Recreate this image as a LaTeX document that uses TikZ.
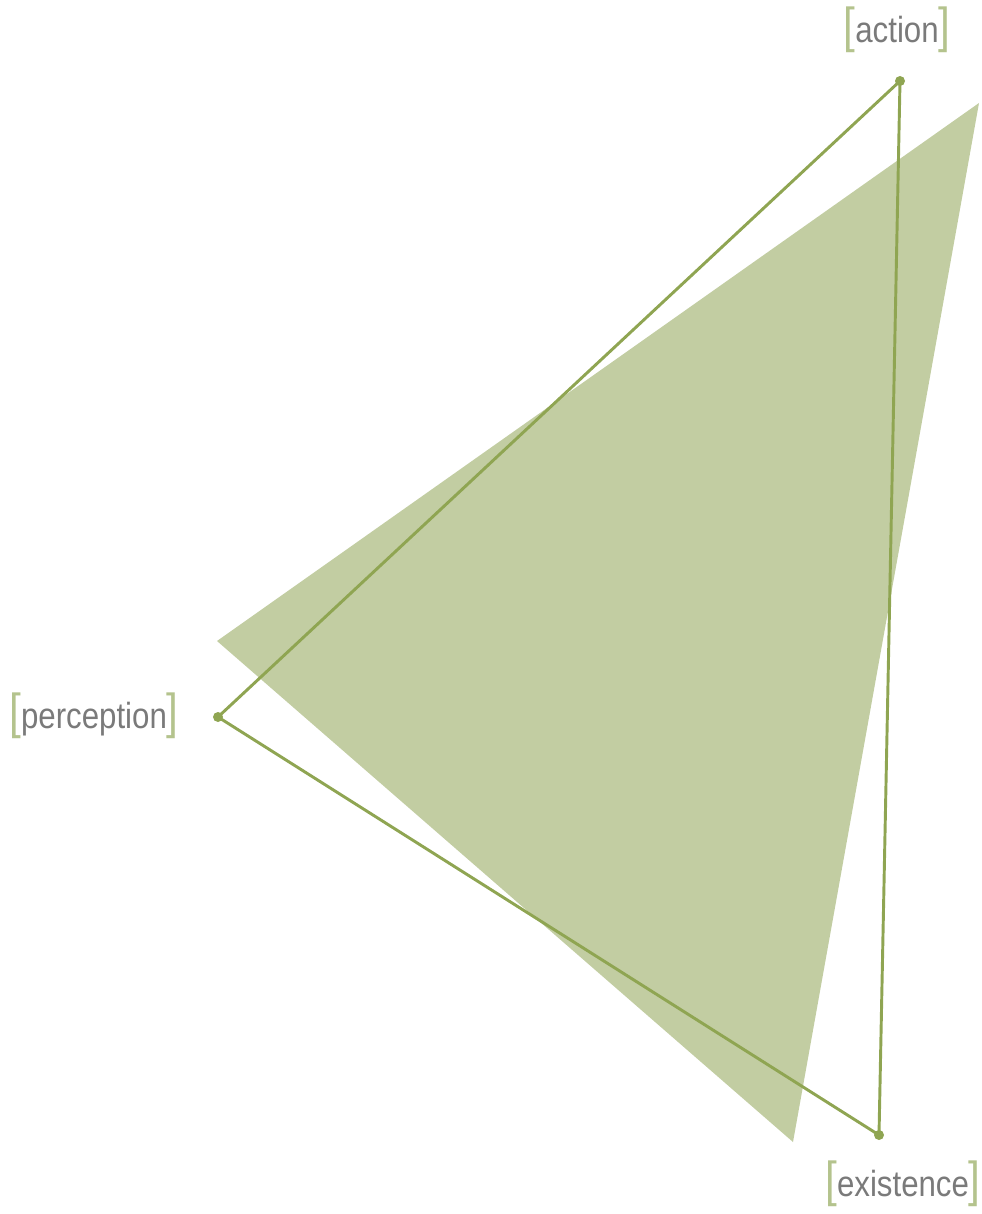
\documentclass[tikz,border=0pt]{standalone}
\usepackage{fontspec}
\setmainfont[FakeStretch=0.86]{Liberation Sans}
\usepackage{tikz}
\usetikzlibrary{positioning}
\definecolor{leaf}{HTML}{8FA552}
\definecolor{leafpale}{HTML}{C2CDA2}
\definecolor{brkgreen}{HTML}{B4C38D}
\definecolor{labgray}{HTML}{7A7A7A}

\newcommand{\brlabel}[1]{{\fontsize{42}{42}\selectfont\color{brkgreen}[}{\color{labgray}#1}{\fontsize{42}{42}\selectfont\color{brkgreen}]}}

\begin{document}
\begin{tikzpicture}[x=0.03cm, y=-0.03cm,
    corner/.style={circle, fill=leaf, inner sep=0pt, minimum size=0.3cm},
    tag/.style={inner sep=0pt, font=\fontsize{31}{31}\selectfont},
    edge/.style={draw=leaf, line width=2.5pt}]

  \useasboundingbox (0,0) rectangle (981,1214);

  % shaded triangle behind
  \fill[leafpale] (217,641) -- (979,103) -- (793,1142) -- cycle;

  % corners
  \node[corner] (act) at (900,81) {};
  \node[corner] (per) at (218,717) {};
  \node[corner] (exi) at (879,1135) {};

  % outline triangle
  \draw[edge] (act.center) -- (per.center) -- (exi.center) -- (act.center);

  % labels
  \node[tag] (actlab) at (897,30) {\brlabel{action}};
  \node[tag] (perlab) at (94,716) {\brlabel{perception}};
  \node[tag] (exilab) at (903,1184) {\brlabel{existence}};

\end{tikzpicture}
\end{document}
